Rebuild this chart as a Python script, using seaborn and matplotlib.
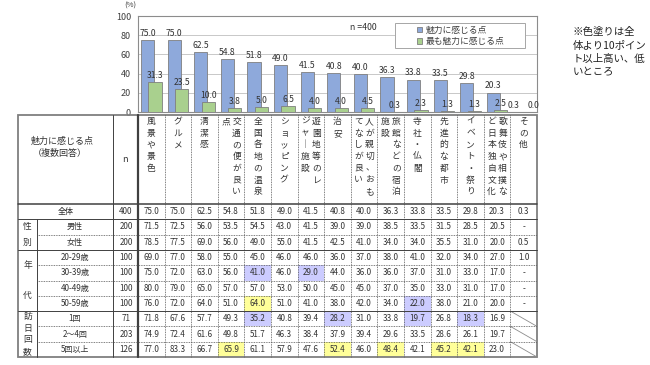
import matplotlib
matplotlib.use('Agg')
import matplotlib.pyplot as plt
import seaborn as sns
import pandas as pd
from matplotlib.patches import Rectangle

# データ
items = ['風景や景色', 'グルメ', '清潔感', '交通の便が良い点', '全国各地の温泉', 'ショッピング',
         '遊園地等のレジャー施設', '治安', '人が親切、おもてなしが良い', '旅館などの宿泊施設',
         '寺社・仏閣', '先進的な都市', 'イベント・祭り', '歌舞伎や相撲など日本独自文化', 'その他']
series_names = ['魅力に感じる点', '最も魅力に感じる点']
attract = [75.0, 75.0, 62.5, 54.8, 51.8, 49.0, 41.5, 40.8, 40.0, 36.3, 33.8, 33.5, 29.8, 20.3, 0.3]
most_attract = [31.3, 23.5, 10.0, 3.8, 5.0, 6.5, 4.0, 4.0, 4.5, 0.3, 2.3, 1.3, 1.3, 2.5, 0.0]

# 表の列見出し（縦書き、右の列から）
header_cols = [['風景や景色'], ['グルメ'], ['清潔感'], ['交通の便が良い', '点'], ['全国各地の温泉'],
               ['ショッピング'], ['遊園地等のレ', 'ジャ｜施設'], ['治安'], ['人が親切、おも', 'てなしが良い'],
               ['旅館などの宿泊', '施設'], ['寺社・仏閣'], ['先進的な都市'], ['イベント・祭り'],
               ['歌舞伎や相撲な', 'ど日本独自文化'], ['その他']]

row_labels = ['全体', '男性', '女性', '20-29歳', '30-39歳', '40-49歳', '50-59歳', '1回', '2～4回', '5回以上']
row_n = [400, 200, 200, 100, 100, 100, 100, 71, 203, 126]
group_names = ['性別', '年代', '訪日回数']
group_rows = [(1, 3), (3, 7), (7, 10)]

# '-' は該当なし、None は斜線
row_all = attract
row_male = [71.5, 72.5, 56.0, 53.5, 54.5, 43.0, 41.5, 39.0, 39.0, 38.5, 33.5, 31.5, 28.5, 20.5, '-']
row_female = [78.5, 77.5, 69.0, 56.0, 49.0, 55.0, 41.5, 42.5, 41.0, 34.0, 34.0, 35.5, 31.0, 20.0, 0.5]
row_20s = [69.0, 77.0, 58.0, 55.0, 45.0, 46.0, 46.0, 36.0, 37.0, 38.0, 41.0, 32.0, 34.0, 27.0, 1.0]
row_30s = [75.0, 72.0, 63.0, 56.0, 41.0, 46.0, 29.0, 44.0, 36.0, 36.0, 37.0, 31.0, 33.0, 17.0, '-']
row_40s = [80.0, 79.0, 65.0, 57.0, 57.0, 53.0, 50.0, 45.0, 45.0, 37.0, 35.0, 33.0, 31.0, 17.0, '-']
row_50s = [76.0, 72.0, 64.0, 51.0, 64.0, 51.0, 41.0, 38.0, 42.0, 34.0, 22.0, 38.0, 21.0, 20.0, '-']
row_1 = [71.8, 67.6, 57.7, 49.3, 35.2, 40.8, 39.4, 28.2, 31.0, 33.8, 19.7, 26.8, 18.3, 16.9, None]
row_2_4 = [74.9, 72.4, 61.6, 49.8, 51.7, 46.3, 38.4, 37.9, 39.4, 29.6, 33.5, 28.6, 26.1, 19.7, None]
row_5 = [77.0, 83.3, 66.7, 65.9, 61.1, 57.9, 47.6, 52.4, 46.0, 48.4, 42.1, 45.2, 42.1, 23.0, None]
table_rows = [row_all, row_male, row_female, row_20s, row_30s, row_40s, row_50s, row_1, row_2_4, row_5]

blue = '#8EA9DB'
green = '#A9D08E'
hi_blue = '#CCCCFF'
hi_yellow = '#FFFF99'
txt = '#333333'

sns.set_theme(style='white')
plt.rcParams['font.family'] = ['Noto Sans CJK JP', 'DejaVu Sans']

W, H = 650, 365
fig = plt.figure(figsize=(W / 100, H / 100), dpi=100)

col_left, col_right = 138, 537
col_w = (col_right - col_left) / 15
ax = fig.add_axes([col_left / W, 1 - 112 / H, (col_right - col_left) / W, 96 / H])

df = pd.DataFrame({'item': items * 2,
                   'series': [series_names[0]] * len(items) + [series_names[1]] * len(items),
                   'value': attract + most_attract})
sns.barplot(data=df, x='item', y='value', hue='series', order=items, hue_order=series_names,
            palette=[blue, green], saturation=1, edgecolor='#7f7f7f', linewidth=0.6,
            width=0.8, ax=ax)

# 棒を少し重ねる（Excel風）
offsets = [-0.14, 0.14]
bw = 0.5
for j, cont in enumerate(ax.containers):
    for p in cont:
        c = round(p.get_x() + p.get_width() / 2)
        p.set_x(c + offsets[j] - bw / 2)
        p.set_width(bw)
        p.set_zorder(2 + j)
    labels_ = ax.bar_label(cont, fmt='%.1f', padding=1.5, fontsize=6.2, color=txt, zorder=5)
    # 最後の項目はラベルが重なるので左右に寄せる
    labels_[-1].set_ha('right' if j == 0 else 'left')

ax.set_xlim(-0.5, 14.5)
ax.set_ylim(0, 100)
ax.set_yticks(range(0, 101, 20))
ax.set_xticks([])
ax.set_xlabel('')
ax.set_ylabel('')
ax.yaxis.grid(True, color='#bfbfbf', lw=0.6)
ax.set_axisbelow(True)
for s in ax.spines.values():
    s.set_color('#8c8c8c')
    s.set_linewidth(0.8)
ax.tick_params(axis='y', labelsize=6.5, length=0, pad=5, colors='#404040')

# 凡例
handles, labels = ax.get_legend_handles_labels()
ax.add_patch(Rectangle(((395 - col_left) / (col_right - col_left), (112 - 48) / 96),
                       130 / (col_right - col_left), 25 / 96, transform=ax.transAxes,
                       facecolor='white', edgecolor='#a6a6a6', lw=0.7, zorder=6))
leg = ax.legend(handles, labels, loc='upper left',
                bbox_to_anchor=((414 - col_left) / (col_right - col_left), (112 - 23) / 96),
                frameon=False, fontsize=6.3, handlelength=0.6, handleheight=0.6,
                handletextpad=0.4, borderpad=0.3, borderaxespad=0, labelspacing=0.25,
                labelcolor='#404040')
leg.set_zorder(7)
ax.text((363 - col_left) / (col_right - col_left), (112 - 27) / 96, 'n =400', fontsize=6.3,
        color=txt, ha='center', va='center', transform=ax.transAxes)

# 表（ピクセル座標）
tax = fig.add_axes([0, 0, 1, 1])
tax.set_xlim(0, W)
tax.set_ylim(H, 0)
tax.axis('off')
tax.patch.set_alpha(0)

tax.text(130, 6, '(%)', fontsize=5.5, color='#404040', ha='center', va='center')

note = ['※色塗りは全', '体より10ポイン', 'ト以上高い、低', 'いところ']
for k, line in enumerate(note):
    tax.text(573, 32 + k * 13.5, line, fontsize=7.5, color='#222222', ha='left', va='center')

x_tab, x_grp, x_lab = 18, 37, 113
y_top, y_head = 115, 204
row_h = (357 - y_head) / len(row_labels)
y_bot = y_head + row_h * len(row_labels)

def row_y(i):
    return y_head + i * row_h

# 見出し
tax.text(62, 141, '魅力に感じる点', fontsize=6.5, color=txt, ha='center', va='center')
tax.text(60, 153, '（複数回答）', fontsize=6.5, color=txt, ha='center', va='center')
tax.text(125, 160, 'n', fontsize=6.5, color=txt, ha='center', va='center')
for i, cols in enumerate(header_cols):
    cx = col_left + (i + 0.5) * col_w
    xs = [cx] if len(cols) == 1 else [cx + 5.5, cx - 5.5]
    for xc, s in zip(xs, cols):
        for k, ch in enumerate(s):
            tax.text(xc, 121.5 + k * 11.7, ch, fontsize=6.3, color=txt, ha='center', va='center')

# 本体
for r, vals in enumerate(table_rows):
    y0 = row_y(r)
    yc = y0 + row_h / 2
    if r == 0:
        tax.text((x_tab + x_lab) / 2, yc, row_labels[r], fontsize=5.8, color=txt, ha='center', va='center')
    else:
        tax.text((x_grp + x_lab) / 2, yc, row_labels[r], fontsize=5.8, color=txt, ha='center', va='center')
    tax.text(126, yc, str(row_n[r]), fontsize=5.8, color=txt, ha='center', va='center')
    for i, v in enumerate(vals):
        x0 = col_left + i * col_w
        if v is None:
            tax.plot([x0, x0 + col_w], [y0, y0 + row_h], color='#8c8c8c', lw=0.6)
            continue
        if isinstance(v, str):
            tax.text(x0 + col_w / 2, yc, v, fontsize=5.8, color=txt, ha='center', va='center')
            continue
        base = row_all[i]
        diff = round(v - base, 1)
        if r > 0 and diff >= 10:
            tax.add_patch(Rectangle((x0, y0), col_w, row_h, facecolor=hi_yellow, edgecolor='none', zorder=0))
        elif r > 0 and diff <= -10:
            tax.add_patch(Rectangle((x0, y0), col_w, row_h, facecolor=hi_blue, edgecolor='none', zorder=0))
        tax.text(x0 + col_w / 2, yc, f'{v:.1f}', fontsize=5.8, color=txt, ha='center', va='center')

for name, (a, b) in zip(group_names, group_rows):
    ya, yb = row_y(a), row_y(b)
    step = (yb - ya) / len(name)
    for k, ch in enumerate(name):
        tax.text((x_tab + x_grp) / 2, ya + (k + 0.5) * step, ch, fontsize=6.3, color=txt,
                 ha='center', va='center')

# 罫線
solid = dict(color='#404040', lw=0.7)
dot = dict(color='#555555', lw=0.6, linestyle=(0, (1, 1)))
for i in range(1, 15):
    x = col_left + i * col_w
    tax.plot([x, x], [y_top, y_bot], **dot)
tax.plot([x_lab, x_lab], [y_top, y_bot], **solid)
tax.plot([col_left, col_left], [y_top, y_bot], color='#404040', lw=1.6)
tax.plot([x_grp, x_grp], [row_y(1), y_bot], **solid)
tax.plot([x_tab, col_right], [y_head, y_head], color='#404040', lw=1.1)
group_starts = [a for a, b in group_rows]
for r in range(1, len(row_labels)):
    y = row_y(r)
    if r in group_starts:
        tax.plot([x_tab, col_right], [y, y], **solid)
    else:
        tax.plot([x_grp, col_right], [y, y], **dot)
tax.add_patch(Rectangle((x_tab, y_top), col_right - x_tab, y_bot - y_top, facecolor='none',
                        edgecolor='#7f7f7f', lw=1.3))

fig.savefig('out.png', dpi=100)
